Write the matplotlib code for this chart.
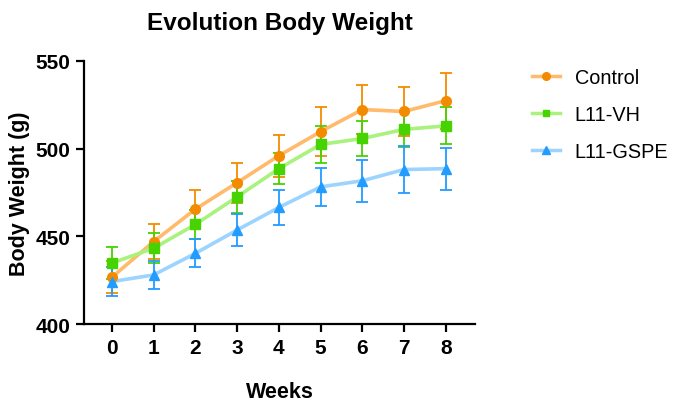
import numpy as np
import matplotlib.pyplot as plt

plt.rcParams['font.family'] = ['Liberation Sans', 'DejaVu Sans']

weeks = [0, 1, 2, 3, 4, 5, 6, 7, 8]

control_mean = [426.7, 447.0, 465.5, 480.6, 496.0, 509.7, 522.3, 521.2, 527.4]
control_sd = [9.0, 10.0, 11.0, 11.5, 12.0, 14.0, 14.0, 14.0, 16.0]

vh_mean = [434.8, 443.2, 456.8, 472.5, 488.6, 502.4, 505.8, 511.0, 513.0]
vh_sd = [9.0, 8.5, 8.5, 9.0, 9.0, 10.6, 10.0, 10.0, 10.5]

gspe_mean = [424.2, 428.0, 440.3, 453.6, 466.5, 478.2, 481.7, 488.1, 488.6]
gspe_sd = [8.5, 8.0, 8.0, 9.0, 9.8, 10.8, 12.0, 13.5, 12.0]

groups = [
    ("Control", control_mean, control_sd, "o", "#FFBA6B", "#F38B00", 7.0),
    ("L11-VH", vh_mean, vh_sd, "s", "#A9F27E", "#46D300", 6.5),
    ("L11-GSPE", gspe_mean, gspe_sd, "^", "#9CD4FF", "#229CFF", 7.0),
]

fig = plt.figure(figsize=(6.75, 4.02), dpi=100)
ax = fig.add_axes([0.1244, 0.1915, 0.5793, 0.6543])

for name, mean, sd, marker, line_c, mark_c, ms in groups:
    ax.errorbar(weeks, mean, yerr=sd, fmt="none", ecolor=mark_c,
                elinewidth=1.3, capsize=4, capthick=1.3, zorder=2)
    ax.plot(weeks, mean, color=line_c, lw=2.6, zorder=3)
    ax.plot(weeks, mean, linestyle="none", marker=marker, ms=ms,
            color=mark_c, zorder=4)
    # legend proxy: line with marker
    ax.plot([], [], color=line_c, lw=2.5, marker=marker, ms=ms - 1.5,
            markerfacecolor=mark_c, markeredgecolor=mark_c, label=name)

ax.set_xlim(-0.67, 8.7)
ax.set_ylim(400, 550)
ax.set_xticks(weeks)
ax.set_yticks([400, 450, 500, 550])

for side in ("top", "right"):
    ax.spines[side].set_visible(False)
for side in ("left", "bottom"):
    ax.spines[side].set_linewidth(1.6)

ax.tick_params(axis="both", width=1.6, length=6, labelsize=15, pad=4)
for lbl in ax.get_xticklabels() + ax.get_yticklabels():
    lbl.set_fontweight("bold")

ax.set_xlabel("Weeks", fontsize=15.5, fontweight="bold", labelpad=17)
ax.set_ylabel("Body Weight (g)", fontsize=15.5, fontweight="bold", labelpad=4)
ax.set_title("Evolution Body Weight", fontsize=17.5, fontweight="bold", pad=23)

ax.legend(loc="upper left", bbox_to_anchor=(1.1, 1.04), frameon=False,
          fontsize=14.3, handlelength=1.4, labelspacing=0.9, handletextpad=0.75)

fig.savefig("out.png", dpi=100)
